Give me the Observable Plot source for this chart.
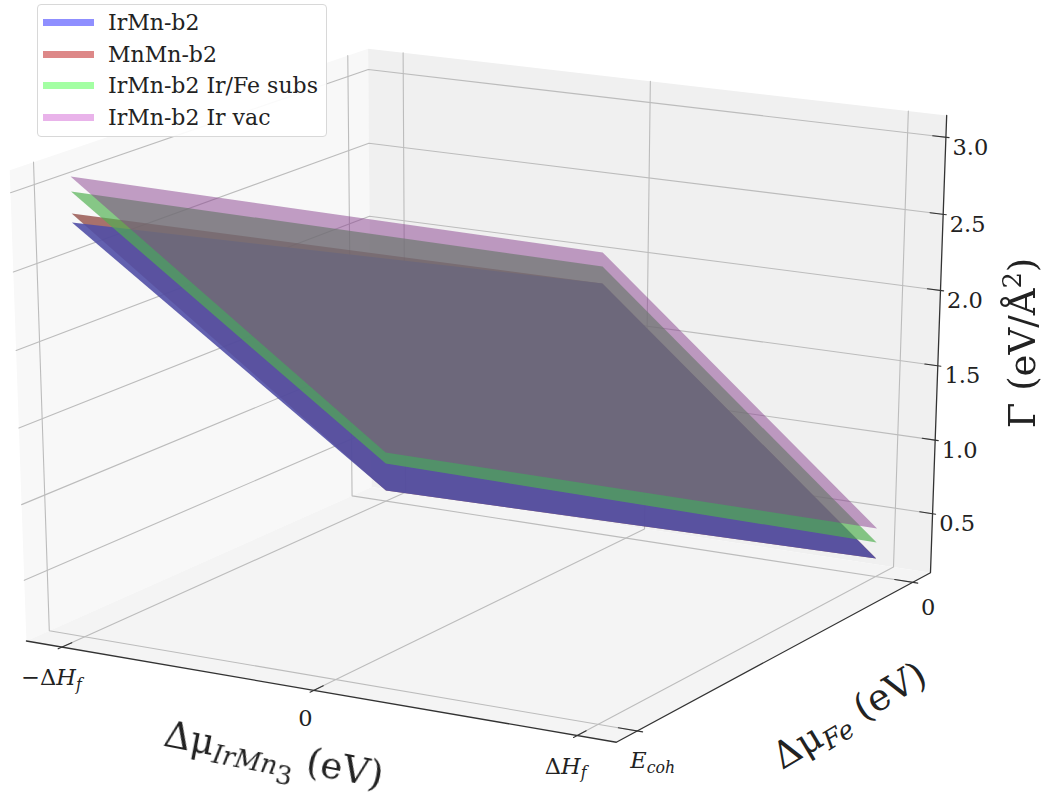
<!DOCTYPE html>
<html><head><meta charset="utf-8">
<script src="https://cdn.jsdelivr.net/npm/d3@7"></script>
<script src="https://cdn.jsdelivr.net/npm/@observablehq/plot@0.6"></script>
<style>
html,body{margin:0;padding:0;background:#fff;overflow:hidden}
#chart{position:relative;width:1043px;height:797px;filter:blur(0.55px)}
#chart svg{display:block}
#legend{position:absolute;left:37px;top:4px;width:290px;height:133px;box-sizing:border-box;background:rgba(255,255,255,.92);border:1px solid #d8d8d8;border-radius:4px;font-family:"DejaVu Serif";font-size:22px;color:#222}
#legend .row{position:absolute;left:0;height:24px;line-height:24px;white-space:nowrap}
#legend .sw{position:absolute;left:5px;top:8px;width:51px;height:7px}
#legend .tx{position:absolute;left:70px;top:0}
</style>
</head><body><div id="chart"></div>
<script>
// ---- axis extents and ticks
const muIrMnDomain = [-1.145, 1.145];
const muFeDomain = [-1.07, 0.07];
const gammaDomain = [0.095, 3.14];
const muIrMnTicks = [-1, 0, 1];
const muFeTicks = [-1, 0];
const gammaTicks = [0.5, 1, 1.5, 2, 2.5, 3];

// ---- surfaces: corner values
const cornerMuIrMn = [-1, 1, 1, -1];
const cornerMuFe = [-1, -1, 0, 0];
const gammaIrMn = [2.791, 2.852, 0.219, 0.170];
const gammaMnMn = [2.848, 2.852, 0.219, 0.170];
const gammaIrFe = [2.986, 2.954, 0.329, 0.362];
const gammaIrVac = [3.080, 3.039, 0.425, 0.440];

// ---- series names and colours
const seriesNames = ["IrMn-b2", "MnMn-b2", "IrMn-b2 Ir/Fe subs", "IrMn-b2 Ir vac"];
const legendColors = ["#8f8fff", "#dd8888", "#a3ffa3", "#e9b3ea"];

// ---- camera calibration: unit-cube corner -> image position
const camera = [[0,0,0,26,640],[1,0,0,616,742],[1,1,0,930,572],[0,1,0,371,487],[1,1,1,946,115],[0,1,1,368,48],[0,0,1,9,170]];
function fitCamera(rows){
  const A=[],b=[];
  for(const [u,v,w,px,py] of rows){
    A.push([u,v,w,1,0,0,0,0,-px*u,-px*v,-px*w]);b.push(px);
    A.push([0,0,0,0,u,v,w,1,-py*u,-py*v,-py*w]);b.push(py);
  }
  const n=11,M=[];
  for(let i=0;i<n;i++){M.push([]);for(let j=0;j<=n;j++){let s=0;for(let k=0;k<A.length;k++)s+=A[k][i]*(j<n?A[k][j]:b[k]);M[i].push(s);}}
  for(let i=0;i<n;i++){
    let p=i;for(let r=i;r<n;r++)if(Math.abs(M[r][i])>Math.abs(M[p][i]))p=r;
    [M[i],M[p]]=[M[p],M[i]];
    for(let r=0;r<n;r++)if(r!==i){const f=M[r][i]/M[i][i];for(let c=i;c<=n;c++)M[r][c]-=f*M[i][c];}
  }
  return M.map((r,i)=>r[n]/r[i]);
}
const h = fitCamera(camera);
const un=(v,d)=>(v-d[0])/(d[1]-d[0]);
function project(p){
  const u=un(p.a,muIrMnDomain),v=un(p.b,muFeDomain),w=un(p.c,gammaDomain);
  const d=h[8]*u+h[9]*v+h[10]*w+1;
  return [(h[0]*u+h[1]*v+h[2]*w+h[3])/d,(h[4]*u+h[5]*v+h[6]*w+h[7])/d];
}
const px=d=>project(d)[0], py=d=>project(d)[1];

const [xLo,xHi]=muIrMnDomain,[fLo,fHi]=muFeDomain,[gLo,gHi]=gammaDomain;
const poly=(id,pts)=>pts.map(([a,b,c])=>({id,a,b,c}));

// panes
const paneLeft=poly("l",[[xLo,fLo,gLo],[xLo,fHi,gLo],[xLo,fHi,gHi],[xLo,fLo,gHi]]);
const paneRight=poly("r",[[xLo,fHi,gLo],[xHi,fHi,gLo],[xHi,fHi,gHi],[xLo,fHi,gHi]]);
const paneFloor=poly("f",[[xLo,fLo,gLo],[xHi,fLo,gLo],[xHi,fHi,gLo],[xLo,fHi,gLo]]);

// grid lines
const grid=[
  ...muIrMnTicks.flatMap(t=>poly("x"+t,[[t,fLo,gLo],[t,fHi,gLo],[t,fHi,gHi]])),
  ...muFeTicks.flatMap(t=>poly("y"+t,[[xHi,t,gLo],[xLo,t,gLo],[xLo,t,gHi]])),
  ...gammaTicks.flatMap(t=>poly("z"+t,[[xLo,fLo,t],[xLo,fHi,t],[xHi,fHi,t]]))
];
// axis lines and tick marks
const axes=poly("axis",[[xLo,fLo,gLo],[xHi,fLo,gLo],[xHi,fHi,gLo],[xHi,fHi,gHi]]);
const ticks=[
  ...muIrMnTicks.flatMap(t=>poly("tx"+t,[[t,fLo-0.012,gLo],[t,fLo+0.03,gLo]])),
  ...muFeTicks.flatMap(t=>poly("ty"+t,[[xHi-0.07,t,gLo],[xHi+0.02,t,gLo]])),
  ...gammaTicks.flatMap(t=>poly("tz"+t,[[xHi-0.05,fHi,t],[xHi+0.012,fHi,t]]))
];
// surfaces
const surface=(name,gamma)=>gamma.map((c,i)=>({id:name,a:cornerMuIrMn[i],b:cornerMuFe[i],c}));

// rich labels (sub/superscripts kept as real text)
const M=(t)=>({t,it:true}), S=(t)=>({t,it:true,sub:1}), SS=(t)=>({t,sub:2}), U=(t)=>({t}), SUP=(t)=>({t,sup:1});
const tickFont=22.5, labelFont=37;
const at=(a,b,c,dx,dy)=>{const [x,y]=project({a,b,c});return [x+dx,y+dy];};
const labels=[
  ...gammaTicks.map(t=>({pos:at(xHi,fHi,t,25,10),size:tickFont,parts:[U(t.toFixed(1))]})),
  {pos:at(-1,fLo,gLo,-10,31),size:tickFont,parts:[U("\u2212\u0394"),M("H"),S("f")]},
  {pos:at(0,fLo,gLo,-8,28),size:tickFont,parts:[U("0")]},
  {pos:at(1,fLo,gLo,-11,31),size:tickFont,parts:[U("\u0394"),M("H"),S("f")]},
  {pos:at(xHi,-1,gLo,16,30),size:tickFont,parts:[M("E"),S("coh")]},
  {pos:at(xHi,0,gLo,16,25),size:tickFont,parts:[U("0")]},
  {pos:[274,754],size:labelFont,rotate:11,parts:[U("\u0394\u03bc"),S("IrMn"),SS("3"),U(" (eV)")]},
  {pos:[849,715],size:labelFont,rotate:-31,parts:[U("\u0394\u03bc"),S("Fe"),U(" (eV)")]},
  {pos:[1022,343],size:labelFont,rotate:-90,parts:[U("\u0393 (eV/\u00c5"),SUP("2"),U(")")]}
];
function richText(index,scales){
  const g=d3.create("svg:g");
  for(const l of labels){
    const text=g.append("text")
      .attr("transform",`translate(${scales.x(l.pos[0])},${scales.y(l.pos[1])}) rotate(${l.rotate||0})`)
      .attr("y","0.35em").attr("text-anchor","middle")
      .attr("font-family","DejaVu Serif").attr("font-size",l.size).attr("fill","#222");
    let shift=0;
    for(const p of l.parts){
      const target=p.sub===2?0.42*l.size:p.sub?0.2*l.size:p.sup?-0.38*l.size:0;
      const sz=p.sub||p.sup?0.7*l.size:l.size;
      text.append("tspan").attr("dy",target-shift).attr("font-size",sz)
        .attr("font-style",p.it?"italic":"normal").style("white-space","pre").text(p.t);
      shift=target;
    }
  }
  return g.node();
}

const xy={x:px,y:py};
const plot=Plot.plot({
  width:1043,height:797,margin:0,
  style:{background:"#fff",overflow:"visible"},
  x:{axis:null,domain:[0,1043],range:[0,1043]},
  y:{axis:null,domain:[0,797],range:[0,797]},
  marks:[
    Plot.line(paneLeft,{...xy,fill:"#f8f8f8",stroke:"none"}),
    Plot.line(paneRight,{...xy,fill:"#f0f0f0",stroke:"none"}),
    Plot.line(paneFloor,{...xy,fill:"#f4f4f4",stroke:"none"}),
    Plot.line(grid,{...xy,z:"id",stroke:"#bcbcbc",strokeWidth:1.1,strokeLinejoin:"miter"}),
    Plot.line(axes,{...xy,stroke:"#333",strokeWidth:1.3}),
    Plot.line(ticks,{...xy,z:"id",stroke:"#333",strokeWidth:1.1}),
    Plot.line(surface(seriesNames[1],gammaMnMn),{...xy,fill:"rgb(115,23,15)",fillOpacity:0.6,stroke:"none"}),
    Plot.line(surface(seriesNames[0],gammaIrMn),{...xy,fill:"rgb(81,79,166)",fillOpacity:0.9,stroke:"none"}),
    Plot.line(surface(seriesNames[2],gammaIrFe),{...xy,fill:"rgb(79,176,79)",fillOpacity:0.68,stroke:"none"}),
    Plot.line(surface(seriesNames[3],gammaIrVac),{...xy,fill:"rgb(136,64,142)",fillOpacity:0.5,stroke:"none"}),
    richText
  ]
});
const chart=document.getElementById("chart");
chart.append(plot);
const legend=document.createElement("div");
legend.id="legend";
seriesNames.forEach((name,i)=>{
  const row=document.createElement("div");row.className="row";row.style.top=(6+i*31.6)+"px";
  const sw=document.createElement("span");sw.className="sw";sw.style.background=legendColors[i];
  const tx=document.createElement("span");tx.className="tx";tx.textContent=name;
  row.append(sw,tx);legend.append(row);
});
chart.append(legend);
</script></body></html>
